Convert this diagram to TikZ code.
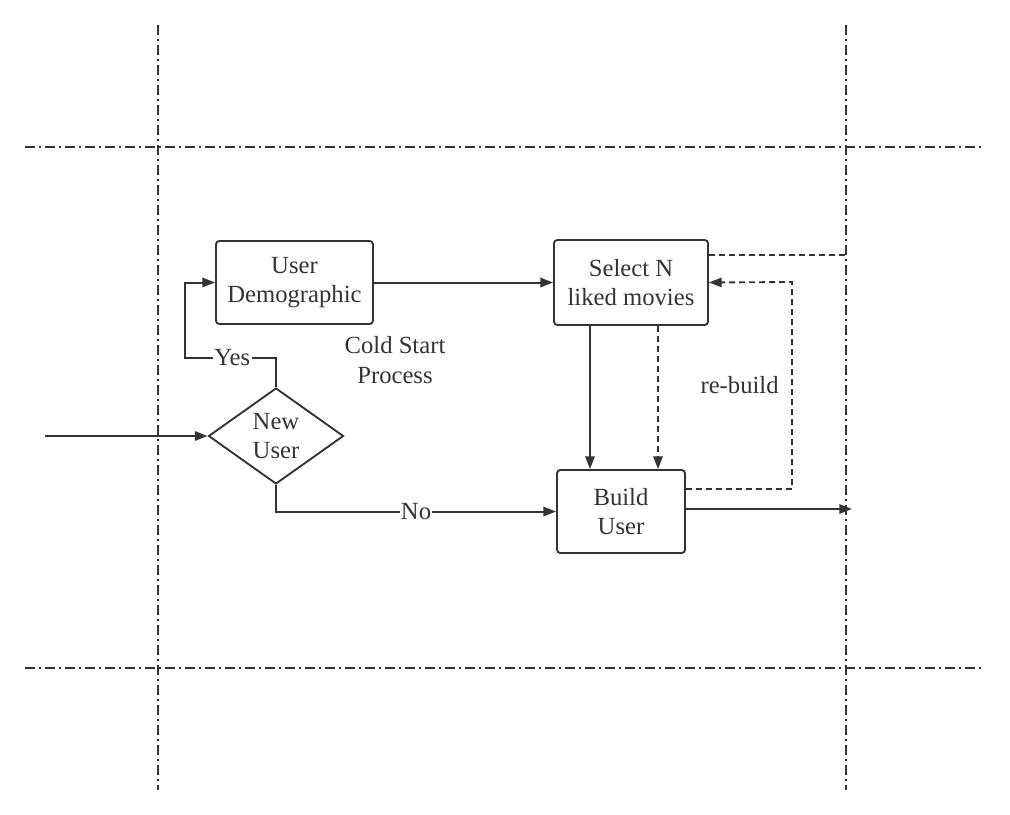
\documentclass[tikz,border=0pt]{standalone}
\usepackage{fontspec}
\setmainfont{Liberation Serif}
\usetikzlibrary{shapes,arrows.meta,positioning}
\definecolor{myline}{RGB}{51,51,51}

\begin{document}
\begin{tikzpicture}[
    x=0.75pt, y=-0.75pt,
    font=\rmfamily\fontsize{18.5}{22}\selectfont, text=myline,
    process/.style={rectangle, draw=myline, line width=1.4pt, rounded corners=2.5pt, align=center, inner sep=0pt},
    decision/.style={diamond, draw=myline, line width=1.4pt, align=center, inner sep=0pt},
    lane/.style={myline, line width=1.2pt, dash pattern=on 7.5pt off 3pt on 1.5pt off 3pt},
    arrow/.style={-{Triangle[length=9.5pt,width=7pt]}, draw=myline, line width=1.5pt},
    back/.style={draw=myline, line width=1.4pt, dash pattern=on 4.5pt off 3pt}
]
\useasboundingbox (0,0) rectangle (1010,814);

% Swim lanes
\draw[lane] (158,25) -- (158,790);
\draw[lane] (846,25) -- (846,790);
\draw[lane] (25,147) -- (982,147);
\draw[lane] (25,668) -- (985,668);

% Nodes
\node[decision, minimum width=101.25pt, minimum height=72pt] (new-user) at (276,436) {New\\User};
\node[process, minimum width=117.75pt, minimum height=62.25pt] (demographic) at (294.5,282.5) {User\\Demographic};
\node[process, minimum width=115.5pt, minimum height=63.75pt] (select) at (631,282.5) {Select N\\liked movies};
\node[process, minimum width=96pt, minimum height=62.25pt] (build) at (621,511.5) {Build\\User};
\node[align=center] (cold-start) at (395,360) {Cold Start\\Process};
\coordinate (input) at (45,436);
\coordinate (output) at (852,509);
\coordinate (lane-end) at (846,255);

% Arrows
\draw[arrow] (input) -- (new-user.west);
\draw[arrow] (new-user.north) |- node[pos=0.74, fill=white, inner sep=1pt] {Yes} (185,358) |- (demographic.west);
\draw[arrow] (new-user.south) |- node[pos=0.75, fill=white, inner sep=1pt] {No} (build.west);
\draw[arrow] (demographic.east) -- (select.west);
\draw[arrow] (select.south -| 590,0) -- (build.north -| 590,0);
\draw[back, -{Triangle[length=9.5pt,width=7pt]}] (select.south -| 658,0) -- (build.north -| 658,0);
\draw[back, -{Triangle[length=9.5pt,width=7pt]}] (build.east |- 0,489) -| node[pos=0.75, left=6pt] {re-build} (792,282) -- (select.east);
\draw[back] (select.east |- 0,255) -- (lane-end);
\draw[arrow] (build.east |- output) -- (output);

\end{tikzpicture}
\end{document}
